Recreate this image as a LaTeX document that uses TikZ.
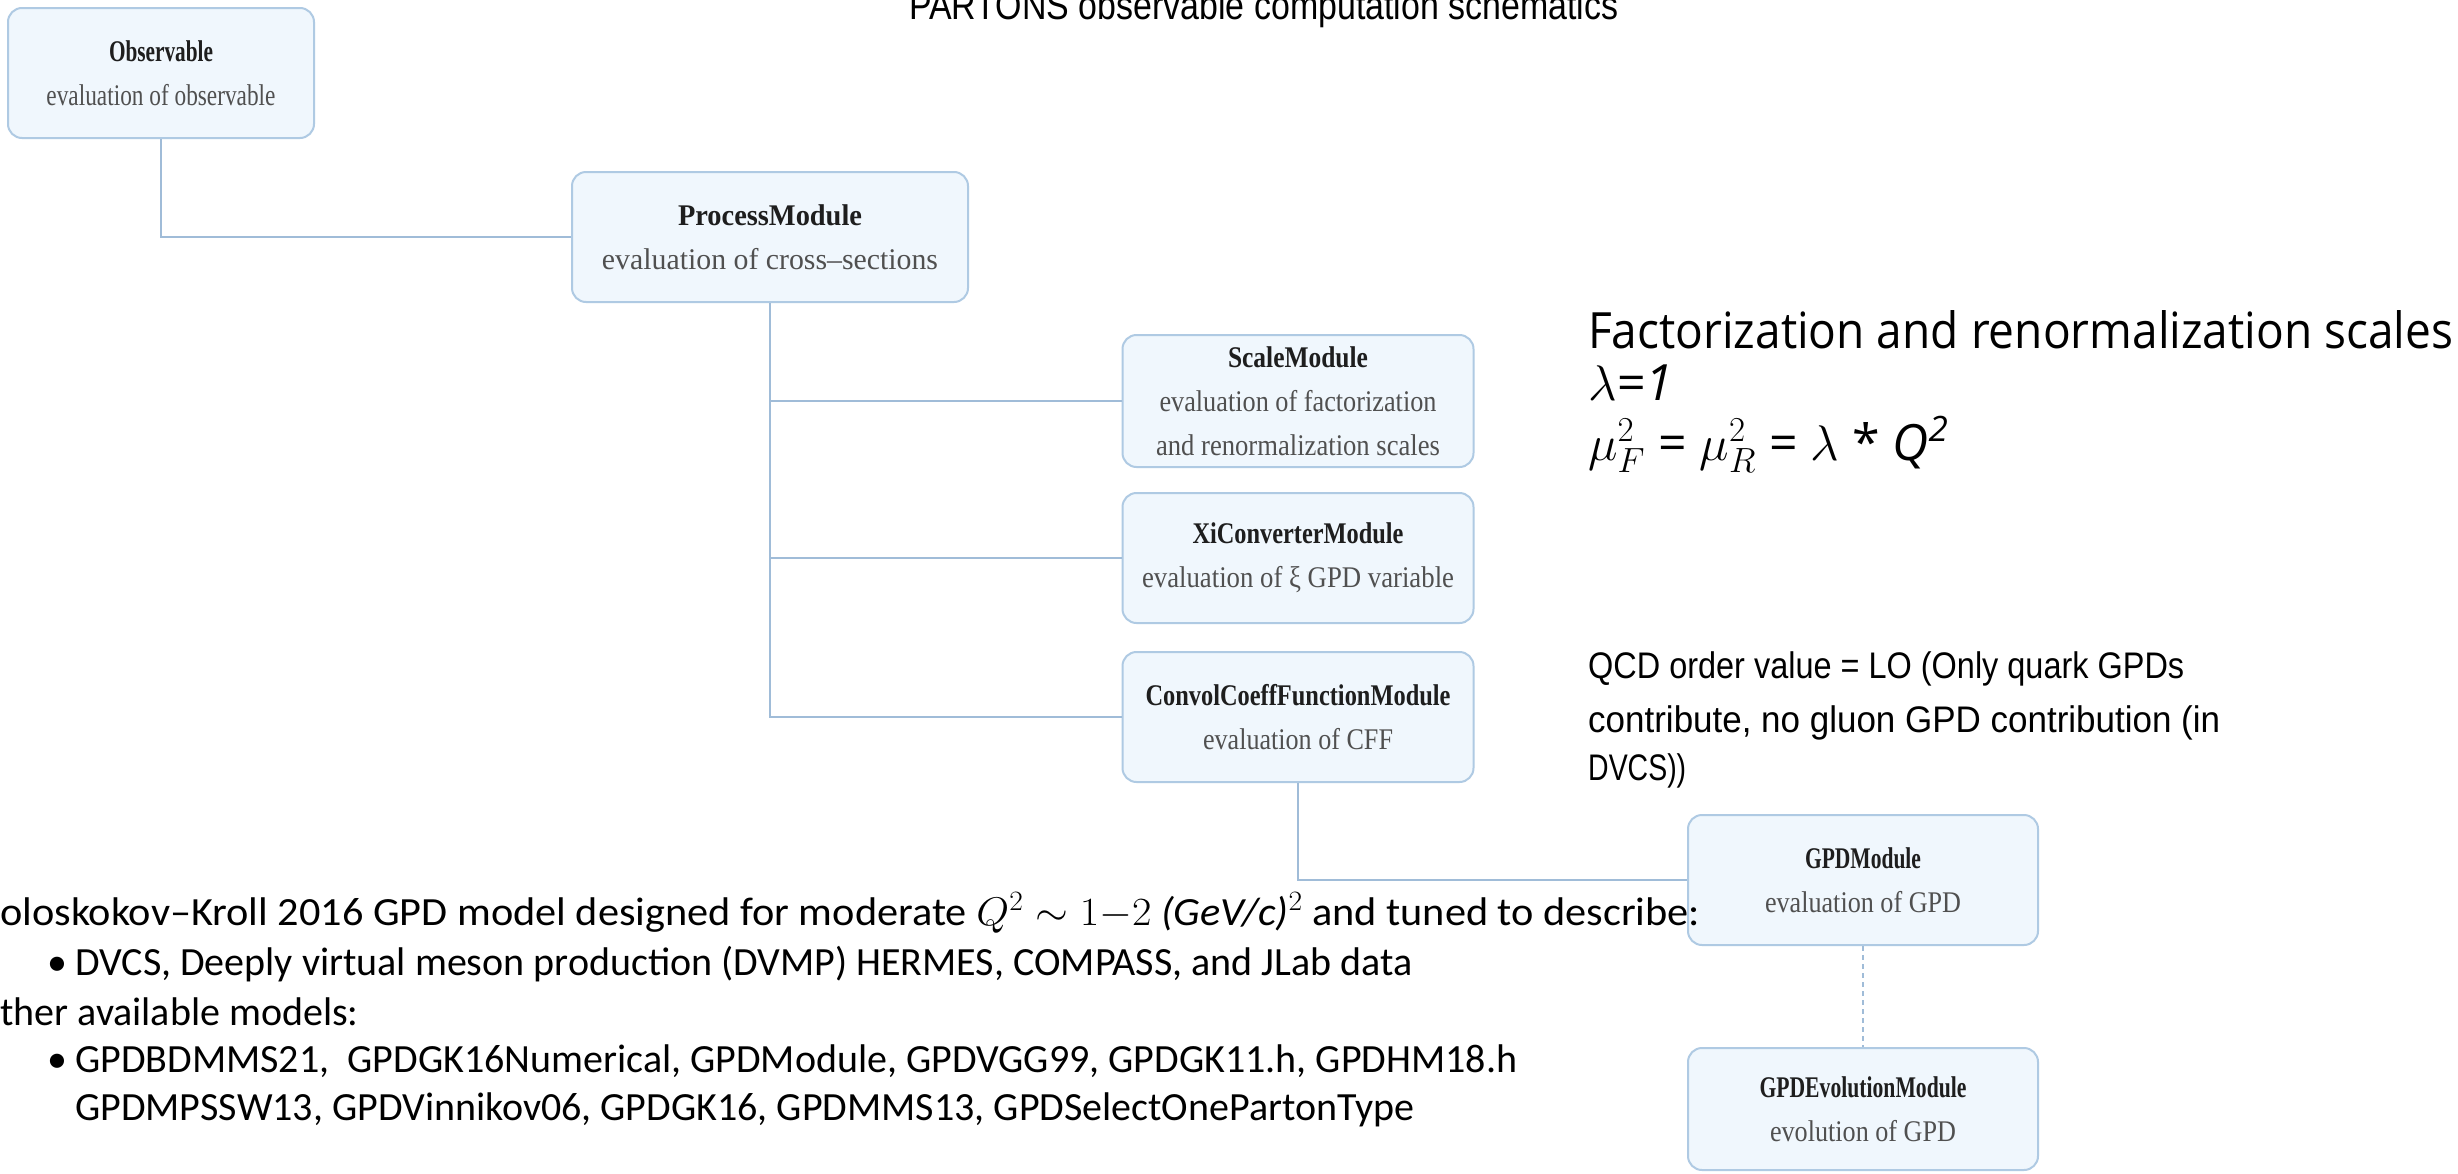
\RequirePackage{fix-cm}
\documentclass[tikz,border=0pt]{standalone}
\usepackage{fontspec}
\setmainfont{Liberation Serif}
\newfontfamily\arialf{Liberation Sans}
\newfontfamily\segoef{Open Sans}
\newfontfamily\calibrif{Carlito}

\definecolor{boxfill}{HTML}{F0F7FD}
\definecolor{boxline}{HTML}{AFCAE3}
\definecolor{linkc}{HTML}{A0BCD8}
\definecolor{titlec}{HTML}{1E1E1E}
\definecolor{subc}{HTML}{505050}

% squeeze a line horizontally to a given width (in pt), keeping its height
\newcommand\fitw[2]{\resizebox{#1pt}{\height}{#2}}
\newcommand\mt[2]{\fitw{#1}{\color{titlec}\bfseries #2}}
\newcommand\ms[2]{\fitw{#1}{\color{subc}#2}}

\tikzset{
  modbox/.style={draw=boxline, fill=boxfill, rounded corners=14pt, line width=2pt,
    inner sep=0pt, align=center, font=\fontsize{30}{44}\selectfont},
  link/.style={draw=linkc, line width=2.5pt},
  linkdash/.style={draw=linkc, line width=1.5pt, dash pattern=on 5pt off 4pt},
  note/.style={anchor=base west, inner sep=0pt, text=black},
  scalefont/.style={font=\segoef\fontsize{50}{55}\selectfont},
  qcdfont/.style={font=\arialf\fontsize{37}{44}\selectfont},
  gkfont/.style={font=\calibrif\fontsize{40}{48}\selectfont},
}

\begin{document}
\begin{tikzpicture}[x=1pt, y=-1pt]
\useasboundingbox (0,0) rectangle (2458,1173);
\fill[white] (0,0) rectangle (2458,1173);

% module boxes
\node[modbox, minimum width=306pt, minimum height=130pt] (obs) at (161,73)
  {\mt{104}{Observable}\\ \ms{229}{evaluation of observable}};
\node[modbox, minimum width=396pt, minimum height=130pt] (proc) at (770,237)
  {\mt{184}{ProcessModule}\\ \ms{336}{evaluation of cross--sections}};
\node[modbox, minimum width=351pt, minimum height=132pt] (scale) at (1298,401)
  {\mt{140}{ScaleModule}\\ \ms{277}{evaluation of factorization}\\ \ms{284}{and renormalization scales}};
\node[modbox, minimum width=351pt, minimum height=130pt] (xi) at (1298,558)
  {\mt{211}{XiConverterModule}\\ \ms{312}{evaluation of ξ GPD variable}};
\node[modbox, minimum width=351pt, minimum height=130pt] (cff) at (1298,717)
  {\mt{305}{ConvolCoeffFunctionModule}\\ \ms{190}{evaluation of CFF}};
\node[modbox, minimum width=350pt, minimum height=130pt] (gpd) at (1863,880)
  {\mt{116}{GPDModule}\\ \ms{196}{evaluation of GPD}};
\node[modbox, minimum width=350pt, minimum height=122pt] (evo) at (1863,1109)
  {\mt{207}{GPDEvolutionModule}\\ \ms{186}{evolution of GPD}};

% tree connectors
\draw[link] (obs.south) |- (proc.west);
\draw[link] (proc.south) |- (cff.west);
\draw[link] (scale.west) -- (scale.west -| proc.south);
\draw[link] (xi.west) -- (xi.west -| proc.south);
\draw[link] (cff.south) |- (gpd.west);
\draw[linkdash] (gpd.south) -- (evo.north);

% heading
\node[note, font=\arialf\fontsize{40}{44}\selectfont] (title) at (909,19)
  {\fitw{709}{PARTONS observable computation schematics}};

% scale settings
\node[note, scalefont] (fac1) at (1588,348)
  {\fitw{865}{Factorization and renormalization scales}};
\node[note, scalefont] (fac2) at (1588,400)
  {$\lambda$\textit{=1}};
\node[note, scalefont] (fac3) at (1588,460)
  {$\mu_F^2$ = $\mu_R^2$ = $\lambda$ * \textit{Q}\textsuperscript{\textit{2}}};

% QCD order setting
\node[note, qcdfont] (qcd1) at (1588,678)
  {\fitw{596}{QCD order value = LO (Only quark GPDs}};
\node[note, qcdfont] (qcd2) at (1588,732)
  {\fitw{632}{contribute, no gluon GPD contribution (in}};
\node[note, qcdfont] (qcd3) at (1588,780)
  {\fitw{98}{DVCS))}};

% GPD model notes
\node[note, gkfont] (gk1) at (0,925)
  {\fitw{1700}{oloskokov–Kroll 2016 GPD model designed for moderate $Q^2 \sim 1{-}2$ \textit{(GeV/c)}$^2$ and tuned to describe:}};
\node[note, gkfont] (b1) at (47,975) {•};
\node[note, gkfont] (gk2) at (75,975)
  {DVCS, Deeply virtual meson production (DVMP) HERMES, COMPASS, and JLab data};
\node[note, gkfont] (oth) at (0,1025)
  {ther available models:};
\node[note, gkfont] (b2) at (47,1072) {•};
\node[note, gkfont] (m1) at (75,1072)
  {GPDBDMMS21,\ \ GPDGK16Numerical, GPDModule, GPDVGG99, GPDGK11.h, GPDHM18.h};
\node[note, gkfont] (m2) at (75,1120)
  {GPDMPSSW13, GPDVinnikov06, GPDGK16, GPDMMS13, GPDSelectOnePartonType};
\end{tikzpicture}
\end{document}
